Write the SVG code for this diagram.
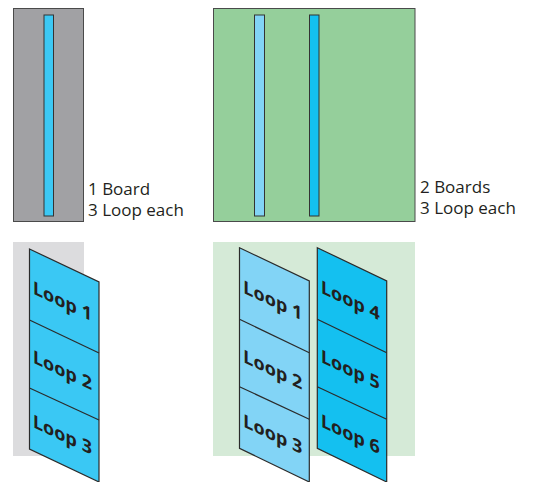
<svg xmlns="http://www.w3.org/2000/svg" width="541" height="482" viewBox="0 0 541 482">
<style>
.frame{stroke:#4a4a4a;stroke-width:1}
.bar{stroke:#333;stroke-width:1}
.para{stroke:#2b2b2b;stroke-width:1.2;stroke-linejoin:miter}
.div{stroke:#2b2b2b;stroke-width:1.2;fill:none}
.cap{font-family:"Open Sans","Liberation Sans",sans-serif;font-size:17px;fill:#231f20}
.loop{font-family:"Noto Sans","Liberation Sans",sans-serif;font-size:18px;font-weight:700;fill:#231f20;text-anchor:middle}
</style>
<rect width="541" height="482" fill="#ffffff"/>
<g id="board1">
<rect class="frame" x="13.5" y="8.5" width="70" height="213" fill="#a1a1a4"/>
<rect class="bar" x="44" y="15" width="9.5" height="201" fill="#3cc8f4"/>
<text class="cap" x="88" y="195">1 Board</text>
<text class="cap" x="88" y="216">3 Loop each</text>
</g>
<g id="board2">
<rect class="frame" x="213.5" y="8.5" width="201.5" height="213" fill="#95cf9b"/>
<rect class="bar" x="254.5" y="15" width="10" height="201" fill="#82d4f6"/>
<rect class="bar" x="309.5" y="15" width="9.5" height="201" fill="#14c0f0"/>
<text class="cap" x="420" y="193">2 Boards</text>
<text class="cap" x="420" y="214">3 Loop each</text>
</g>
<g id="stack1">
<rect x="13" y="242" width="71" height="214" fill="#dcdcde"/>
<polygon class="para" points="29.5,249 99,282 99,482 29.5,449" fill="#3ac8f4"/>
<line class="div" x1="29.5" y1="320" x2="99" y2="353"/>
<line class="div" x1="29.5" y1="388" x2="99" y2="420"/>
<text class="loop" transform="translate(62.5,301) skewY(25.4)" dy="6.5">Loop 1</text>
<text class="loop" transform="translate(62.5,370) skewY(25.4)" dy="6.5">Loop 2</text>
<text class="loop" transform="translate(62.5,434.5) skewY(25.4)" dy="6.5">Loop 3</text>
</g>
<g id="stack2">
<rect x="213" y="242" width="202" height="214" fill="#d5ead7"/>
</g>
<g id="stack2a">
<polygon class="para" points="239.5,247.7 309.3,281 309.3,482 239.5,448.3" fill="#82d4f6"/>
<line class="div" x1="239.5" y1="319.3" x2="309.3" y2="352.7"/>
<line class="div" x1="239.5" y1="386.7" x2="309.3" y2="419.3"/>
<text class="loop" transform="translate(272.8,300.2) skewY(25.4)" dy="6.5">Loop 1</text>
<text class="loop" transform="translate(272.8,369.5) skewY(25.4)" dy="6.5">Loop 2</text>
<text class="loop" transform="translate(272.8,434) skewY(25.4)" dy="6.5">Loop 3</text>
</g>
<g id="stack2b">
<polygon class="para" points="317.3,247.7 386.7,281 386.7,482 317.3,448.3" fill="#14c0f0"/>
<line class="div" x1="317.3" y1="319.3" x2="386.7" y2="352.7"/>
<line class="div" x1="317.3" y1="386.7" x2="386.7" y2="419.3"/>
<text class="loop" transform="translate(350.4,300.2) skewY(25.4)" dy="6.5">Loop 4</text>
<text class="loop" transform="translate(350.4,369.5) skewY(25.4)" dy="6.5">Loop 5</text>
<text class="loop" transform="translate(350.4,434) skewY(25.4)" dy="6.5">Loop 6</text>
</g>
<g id="connectors"/>
</svg>
